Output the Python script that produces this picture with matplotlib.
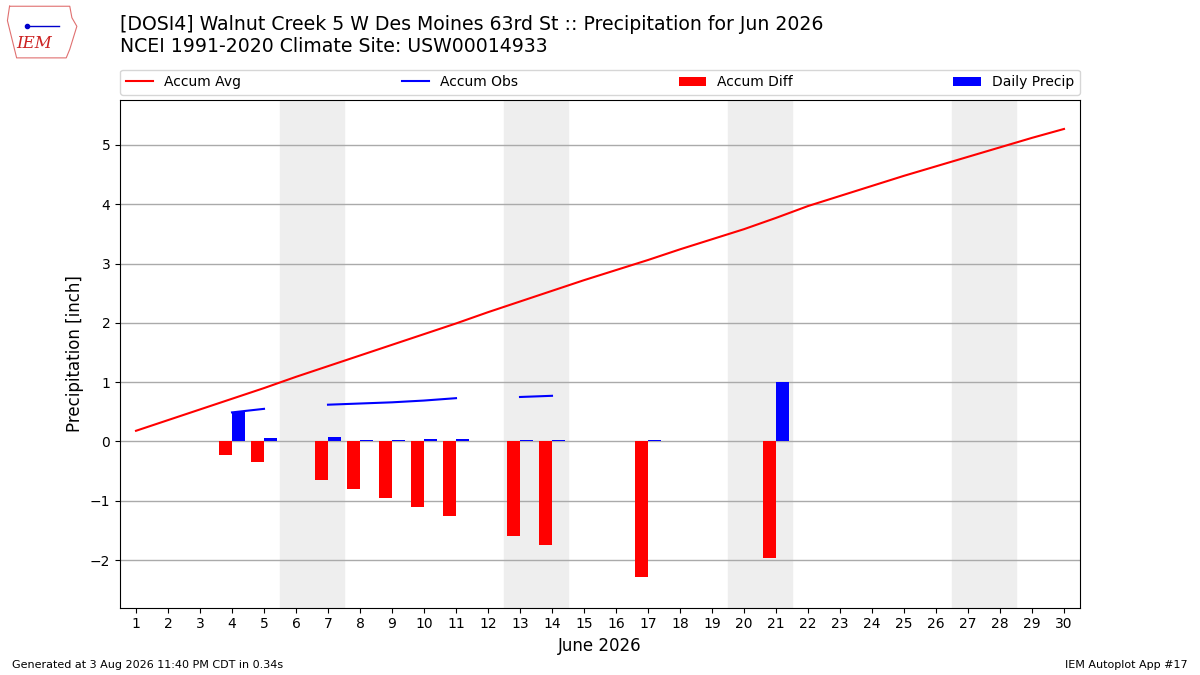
import matplotlib
matplotlib.use("Agg")
import matplotlib.pyplot as plt
import numpy as np

days = np.arange(1, 31)
accum_avg = [0.18, 0.36, 0.54, 0.72, 0.90, 1.09, 1.27, 1.45, 1.63, 1.81,
             1.99, 2.18, 2.36, 2.54, 2.72, 2.89, 3.06, 3.24, 3.41, 3.58,
             3.77, 3.97, 4.14, 4.31, 4.48, 4.64, 4.80, 4.96, 5.12, 5.27]
nan = np.nan
accum_obs = [nan, nan, nan, 0.49, 0.55, nan, 0.62, 0.64, 0.66, 0.69,
             0.73, nan, 0.75, 0.77, nan, nan, 0.78, nan, nan, nan,
             1.81, nan, nan, nan, nan, nan, nan, nan, nan, nan]
accum_diff = [nan, nan, nan, -0.22, -0.35, nan, -0.65, -0.81, -0.96, -1.11,
              -1.25, nan, -1.60, -1.75, nan, nan, -2.29, nan, nan, nan,
              -1.97, nan, nan, nan, nan, nan, nan, nan, nan, nan]
daily_precip = [nan, nan, nan, 0.49, 0.05, nan, 0.07, 0.02, 0.02, 0.04,
                0.04, nan, 0.02, 0.02, nan, nan, 0.02, nan, nan, nan,
                1.01, nan, nan, nan, nan, nan, nan, nan, nan, nan]
weekends = [(6, 7), (13, 14), (20, 21), (27, 28)]

fig = plt.figure(figsize=(12, 6.75), dpi=100)
ax = fig.add_axes([0.1, 0.1, 0.8, 0.752])

for d0, d1 in weekends:
    ax.axvspan(d0 - 0.5, d1 + 0.5, color="#eeeeee", zorder=0)

ax.plot(days, accum_avg, color="r", label="Accum Avg", zorder=3)
ax.plot(days, accum_obs, color="b", label="Accum Obs", zorder=3)
ax.bar(days, accum_diff, width=-0.4, align="edge", color="r",
       label="Accum Diff", zorder=2)
ax.bar(days, daily_precip, width=0.4, align="edge", color="b",
       label="Daily Precip", zorder=2)

ax.set_axisbelow(True)
ax.grid(axis="y", color="#aaaaaa", linewidth=1)
ax.set_xlim(0.5, 30.5)
ax.set_ylim(-2.8, 5.76)
ax.set_xticks(days)
ax.set_yticks(range(-2, 6))
ax.set_xlabel("June 2026", fontsize=12)
ax.set_ylabel("Precipitation [inch]", fontsize=12)
ax.legend(bbox_to_anchor=(0, 1.01, 1, 0.06), loc="lower left", ncol=4,
          mode="expand", borderaxespad=0, fontsize=10)

fig.text(0.1, 0.978, "[DOSI4] Walnut Creek 5 W Des Moines 63rd St :: Precipitation for Jun 2026\n"
         "NCEI 1991-2020 Climate Site: USW00014933", fontsize=13.6, va="top", ha="left")
fig.text(0.01, 0.01, "Generated at 3 Aug 2026 11:40 PM CDT in 0.34s", fontsize=8)
fig.text(0.99, 0.01, "IEM Autoplot App #17", fontsize=8, ha="right")

# rough logo
lax = fig.add_axes([0.005, 0.91, 0.062, 0.085])
lx = [0.05, 0.9, 0.93, 1.0, 0.95, 0.9, 0.85, 0.15, 0.1, 0.02, 0.05]
ly = [0.95, 0.95, 0.75, 0.6, 0.4, 0.2, 0.05, 0.05, 0.3, 0.7, 0.95]
lax.plot(lx, ly, color="#e07070", linewidth=0.8)
lax.text(0.4, 0.3, "IEM", color="#cc2222", fontsize=12, style="italic",
         family="DejaVu Serif", ha="center", va="center")
lax.plot([0.3, 0.75], [0.6, 0.6], color="#0000cc", linewidth=1)
lax.plot([0.3], [0.6], "o", color="#0000cc", markersize=3)
lax.set_xlim(0, 1.05)
lax.set_ylim(0, 1)
lax.axis("off")

fig.savefig("out.png", dpi=100)
